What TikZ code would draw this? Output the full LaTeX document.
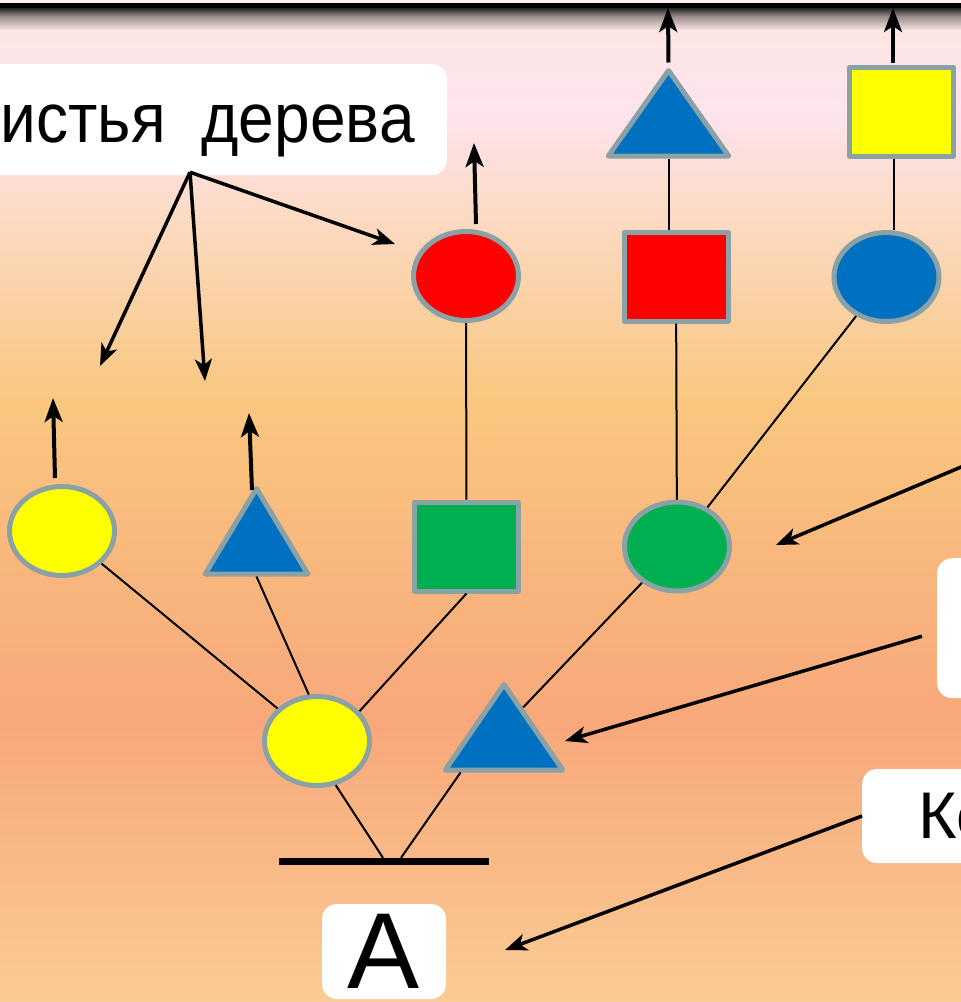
\documentclass[tikz,border=0pt]{standalone}
\usepackage{fontspec}
\setmainfont{Liberation Sans}
\newfontfamily\narrowsans[FakeStretch=0.915]{Liberation Sans}
\usepackage{xcolor}
\usepackage{tikz}
\usetikzlibrary{arrows.meta,positioning,shapes,calc}

\definecolor{rimgray}{RGB}{138,161,166}
\definecolor{leafyellow}{HTML}{FFFF00}
\definecolor{leafblue}{HTML}{0070C0}
\definecolor{leafred}{HTML}{FF0000}
\definecolor{leafgreen}{HTML}{00B050}
\definecolor{bgA}{HTML}{FCE6E4}
\definecolor{bgB}{HTML}{FDE4EE}
\definecolor{bgC}{HTML}{FCDAC2}
\definecolor{bgD}{HTML}{F9C77F}
\definecolor{bgE}{HTML}{F8A87B}
\definecolor{bgF}{HTML}{FACB94}

\begin{document}
\begin{tikzpicture}[x=1pt, y=-1pt,
    shp/.style={draw=rimgray, line width=5pt, line join=round, inner sep=0pt},
    oval/.style={shp, ellipse, minimum width=105pt, minimum height=89pt},
    sq/.style={shp, rectangle, minimum width=104pt, minimum height=89pt},
    tri/.style={shp, regular polygon, regular polygon sides=3, minimum size=114pt},
    twig/.style={line width=2pt},
    sprout/.style={line width=4pt, -{Stealth[length=24pt,width=18pt,inset=6pt]}},
    note/.style={fill=white, rounded corners=15pt, inner sep=0pt},
    pointer/.style={line width=3.5pt, -{Stealth[length=22pt,width=17pt,inset=6pt]}}
]
    \useasboundingbox (0,0) rectangle (961,1002);
    \clip (0,0) rectangle (961,1002);

    % background
    \fill[white!50!bgA] (0,0) rectangle (961,8);
    \shade[top color=bgA, bottom color=bgB] (0,30) rectangle (961,110);
    \shade[top color=bgB, bottom color=bgC] (0,110) rectangle (961,220);
    \shade[top color=bgC, bottom color=bgD] (0,220) rectangle (961,400);
    \shade[top color=bgD, bottom color=bgE] (0,400) rectangle (961,720);
    \shade[top color=bgE, bottom color=bgF] (0,720) rectangle (961,1002);
    \shade[top color=black!85, bottom color=black!40!bgA] (0,8) rectangle (961,16);
    \shade[top color=black!40!bgA, bottom color=bgA] (0,16) rectangle (961,30);
    \fill[black] (0,3) rectangle (961,8);

    % the tree
    \node[oval, fill=leafyellow] (e1) at (317,741) {};
    \node[tri, fill=leafblue, xscale=1.19] (t1) at (504,741.5) {};
    \node[oval, fill=leafyellow] (e2) at (62,531) {};
    \node[tri, fill=leafblue, xscale=1.04] (t2) at (256.5,545.5) {};
    \node[sq, fill=leafgreen] (s2) at (466.5,546.5) {};
    \node[oval, fill=leafgreen] (e3) at (677,546.5) {};
    \node[oval, fill=leafred] (e4) at (466,276) {};
    \node[sq, fill=leafred] (s4) at (676,276.5) {};
    \node[oval, fill=leafblue] (e5) at (886.5,277) {};
    \node[tri, fill=leafblue, xscale=1.22] (t5) at (668.5,127.5) {};
    \node[sq, fill=leafyellow] (s5) at (901.5,111.5) {};
    \node[fill=black, inner sep=0pt, minimum width=210pt, minimum height=7pt] (bar) at (384,861.5) {};

    \draw[twig] (e2) -- (e1);
    \draw[twig] (t2.south) -- (e1.100);
    \draw[twig] (s2.south) -- (e1.35);
    \draw[twig] (e3.226) -- ($(t1.corner 1)!0.3!(t1.corner 3)$);
    \draw[twig] (e4) -- (s2);
    \draw[twig] (s4) -- (e3);
    \draw[twig] (e5) -- (e3);
    \draw[twig] (t5.south) -- (t5.south |- s4.north);
    \coordinate (s5foot) at ($(s5.south)+(-8,0)$);
    \draw[twig] (s5foot) -- (s5foot |- e5.north);
    \draw[twig] (e1.293) -- ($(bar.north)+(-1,0)$);
    \draw[twig] ($(t1.corner 2)!0.16!(t1.corner 3)$) -- ($(bar.north)+(17,0)$);

    % growing ends
    \coordinate (up1) at (53,398);
    \coordinate (up2) at (249,413);
    \coordinate (up3) at (474,143);
    \coordinate (up4) at (668,8);
    \coordinate (up5) at (893,8);
    \draw[sprout] ($(e2.north)+(-7,-6)$) -- (up1);
    \draw[sprout] ($(t2.north)+(-4.5,6.5)$) -- (up2);
    \draw[sprout] ($(e4.north)+(10,-5)$) -- (up3);
    \draw[sprout] ($(t5.north)+(0,-3)$) -- (up4);
    \draw[sprout] ($(s5.north)+(-8.5,-2)$) -- (up5);

    % labels
    \node[note, anchor=east, minimum height=111pt, inner xsep=32pt, text depth=3pt,
          font=\narrowsans\fontsize{70}{74}\selectfont] (leaves) at (447,119.5) {Листья~~дерева};
    \node[note, anchor=north west, minimum width=200pt, minimum height=140pt] (midbox) at (937,558) {};
    \node[note, anchor=west, minimum height=94pt, inner xsep=56pt, text depth=0pt,
          font=\fontsize{66}{70}\selectfont] (rootlbl) at (862,816) {Корень дерева};
    \node[note, minimum width=124pt, minimum height=95pt, text depth=0pt,
          font=\fontsize{108}{110}\selectfont] (root) at (384,951.5) {A};

    \coordinate (lv) at ($(leaves.south east)+(-257,-3)$);
    \coordinate (tipA) at (100,366);
    \coordinate (tipB) at (205,381);
    \coordinate (tipC) at (395,244);
    \draw[pointer] (lv) -- (tipA);
    \draw[pointer] (lv) -- (tipB);
    \draw[pointer] (lv) -- (tipC);

    \coordinate (offlabel) at (1030,438);
    \coordinate (tipD) at (776,545);
    \coordinate (tipE) at (565,741);
    \coordinate (tipF) at (505,950);
    \draw[pointer] (offlabel) -- (tipD);
    \draw[pointer] ($(midbox.west)+(-15,8)$) -- (tipE);
    \draw[pointer] (rootlbl.west) -- (tipF);
\end{tikzpicture}
\end{document}
